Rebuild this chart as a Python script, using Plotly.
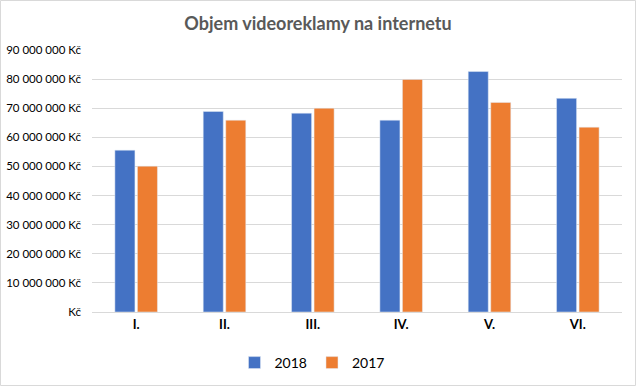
import plotly.graph_objects as go

categories = ["I.", "II.", "III.", "IV.", "V.", "VI."]
values_2018 = [55.6e6, 68.9e6, 68.3e6, 65.9e6, 82.6e6, 73.4e6]
values_2017 = [50.1e6, 65.9e6, 70.0e6, 79.9e6, 72.0e6, 63.5e6]
tick_vals = [0, 10e6, 20e6, 30e6, 40e6, 50e6, 60e6, 70e6, 80e6, 90e6]
tick_text = ["Kč", "10 000 000 Kč", "20 000 000 Kč", "30 000 000 Kč", "40 000 000 Kč",
             "50 000 000 Kč", "60 000 000 Kč", "70 000 000 Kč", "80 000 000 Kč", "90 000 000 Kč"]

W, H = 636, 386
ml, mr, mt, mb = 92, 14, 50, 74

fig = go.Figure()
fig.add_trace(go.Bar(name="2018", x=categories, y=values_2018, marker_color="#4472C4"))
fig.add_trace(go.Bar(name="2017", x=categories, y=values_2017, marker_color="#ED7D31"))

pw, ph = W - ml - mr, H - mt - mb
fig.update_layout(
    width=W, height=H,
    margin=dict(l=ml, r=mr, t=mt, b=mb, pad=0, autoexpand=False),
    paper_bgcolor="white", plot_bgcolor="white",
    font=dict(family="Lato, Liberation Sans, sans-serif", size=12, color="#000000"),
    title=dict(text="<b>Objem videoreklamy na internetu</b>", x=0.5, xref="container", xanchor="center",
               y=1 - 24 / H, yref="container", yanchor="middle",
               font=dict(size=18, color="#595959")),
    barmode="group", bargap=0.49, bargroupgap=0.11,
    showlegend=True,
    legend=dict(orientation="h", x=312 / W, xref="container", xanchor="center",
                y=1 - 363 / H, yref="container", yanchor="middle",
                font=dict(size=14, color="#000000"), traceorder="normal",
                itemwidth=30),
    xaxis=dict(showgrid=False, showline=True, linecolor="#D9D9D9", linewidth=1,
               tickfont=dict(size=13, color="#000000"), ticks="", tickmode="array",
               tickvals=categories, ticktext=["<b>%s</b>" % c for c in categories],
               fixedrange=True, automargin=False),
    yaxis=dict(range=[0, 90e6], tickmode="array", tickvals=tick_vals, ticktext=tick_text,
               showgrid=True, gridcolor="#D9D9D9", gridwidth=1, zeroline=False,
               showline=False, ticks="", ticklabelstandoff=10,
               tickfont=dict(size=11.5, color="#000000"), fixedrange=True, automargin=False),
)
fig.add_shape(type="rect", xref="paper", yref="paper",
              x0=-(ml - 0.5) / pw, x1=1 + (mr - 0.5) / pw,
              y0=-(mb - 0.5) / ph, y1=1 + (mt - 0.5) / ph,
              line=dict(color="#D9D9D9", width=1), layer="below")
fig.write_html("out.html", config={"displayModeBar": False},
               post_script="document.body.style.margin='0';document.body.style.overflow='hidden';")
